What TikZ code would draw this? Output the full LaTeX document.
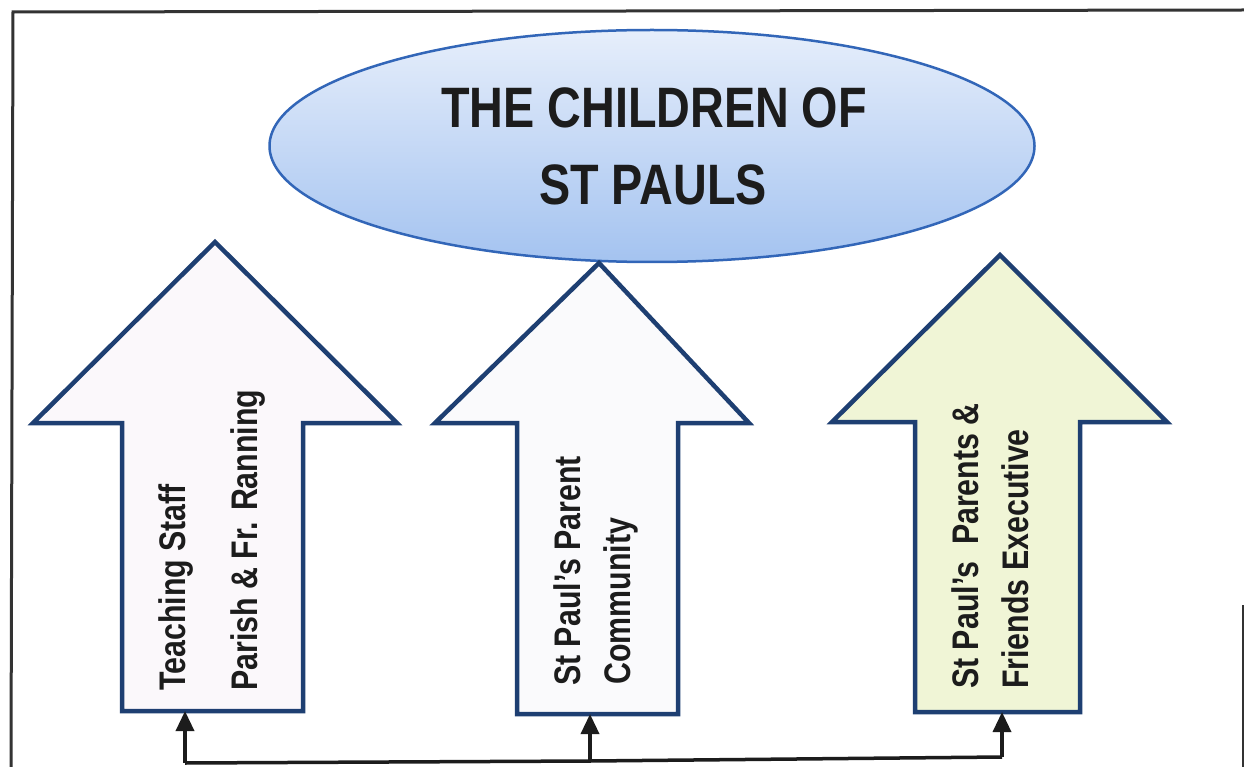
\documentclass[tikz,border=0pt]{standalone}
\usepackage{fontspec}
\usetikzlibrary{shapes.geometric,arrows.meta}
\newfontfamily\nb{Liberation Sans}[FakeStretch=0.82]
\definecolor{navy}{HTML}{1E3F72}
\definecolor{ellborder}{HTML}{3266B8}
\definecolor{elltop}{HTML}{E6EEFB}
\definecolor{ellbot}{HTML}{A4C3F0}
\definecolor{fillA}{HTML}{FBF8FB}
\definecolor{fillB}{HTML}{FAFAFC}
\definecolor{fillC}{HTML}{F0F5D6}
\definecolor{ink}{HTML}{1C1C1C}
\begin{document}
\begin{tikzpicture}[x=1pt,y=-1pt,
  bigarrow/.style={draw=navy,line width=4.5pt,line join=miter},
  lbl/.style={inner sep=0pt,rotate=90,anchor=base west,text=ink,font=\nb\bfseries\fontsize{37}{40}\selectfont},
  ttl/.style={inner sep=0pt,anchor=base,text=ink,font=\nb\bfseries\fontsize{57}{60}\selectfont},
  link/.style={draw=ink,line width=3.5pt},
  linkarrow/.style={link,-{Triangle[length=20pt,width=18pt]}}
]
\useasboundingbox (0,0) rectangle (1244,767);
\fill[white] (0,0) rectangle (1244,767);
% frame
\draw[line width=3pt,draw=ink!90] (11,767) -- (13,12) -- (1244,10);
\draw[line width=2.5pt,draw=ink!90] (1243,605) -- (1243,767);
% title ellipse
\node[ellipse,draw=ellborder,line width=2.5pt,top color=elltop,bottom color=ellbot,
  minimum width=765pt,minimum height=232pt,inner sep=0pt] (kids) at (652,146) {};
\node[ttl] (t1) at (654,128) {THE CHILDREN OF};
\node[ttl] (t2) at (653,205) {ST PAULS};
% arrow 1
\draw[bigarrow,fill=fillA] (215,242) -- (397,423) -- (303,423) -- (303,711) -- (122,711) -- (122,423) -- (33,423) -- cycle;
\coordinate (a1) at (185,711);
\node[lbl] (l1a) at (185,691) {Teaching Staff};
\node[lbl] (l1b) at (257,691) {Parish \& Fr. Ranning};
% arrow 2
\draw[bigarrow,fill=fillB] (599,263) -- (749,423) -- (678,423) -- (678,714) -- (517,714) -- (517,423) -- (435,423) -- cycle;
\coordinate (a2) at (590,714);
\node[lbl] (l2a) at (580,686) {St Paul’s Parent};
\node[lbl] (l2b) at (630,685) {Community};
% arrow 3
\draw[bigarrow,fill=fillC] (1000,255) -- (1167,422) -- (1080,422) -- (1080,712) -- (915,712) -- (915,422) -- (832,422) -- cycle;
\coordinate (a3) at (1002,712);
\node[lbl] (l3a) at (978,689) {St Paul’s\ \ Parents \&};
\node[lbl] (l3b) at (1028,689) {Friends Executive};
% connectors
\coordinate (c1) at (185,763);
\coordinate (c2) at (590,761);
\coordinate (c3) at (1002,757);
\draw[link,line join=miter] (c1) -- (c2) -- (c3);
\draw[linkarrow] (c1) -- (a1);
\draw[linkarrow] (c2) -- (a2);
\draw[linkarrow] (c3) -- (a3);
\end{tikzpicture}
\end{document}
